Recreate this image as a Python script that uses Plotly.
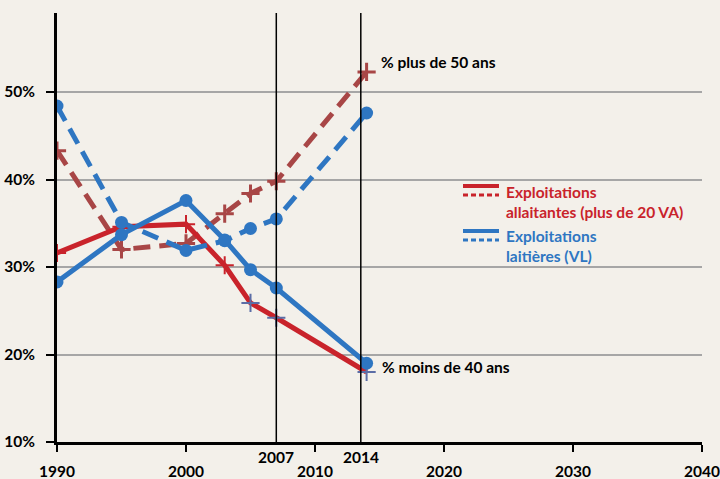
import plotly.graph_objects as go

# ---------------- data ----------------
years = [1990, 1995, 2000, 2003, 2005, 2007, 2014]

# Exploitations laitières (VL)
lait_moins40 = [28.3, 33.7, 37.6, 33.1, 29.7, 27.6, 19.0]
lait_plus50 = [48.4, 35.1, 31.9, 33.0, 34.4, 35.5, 47.6]

# Exploitations allaitantes (plus de 20 VA)
allait_moins40 = [31.6, 34.6, 34.9, 30.2, 25.9, 24.2, 18.0]
allait_plus50 = [43.3, 32.0, 32.7, 36.1, 38.4, 39.8, 52.3]

x_ticks = [1990, 2000, 2010, 2020, 2030, 2040]
x_ticklabels = ["1990", "2000", "2010", "2020", "2030", "2040"]
y_ticks = [10, 20, 30, 40, 50]
y_ticklabels = ["10%", "20%", "30%", "40%", "50%"]

ref_lines = [2007, 2013.55]
ref_labels = ["2007", "2014"]

# ---------------- style ----------------
BLUE = "#2E76C2"
RED = "#C9232B"
BROWN = "#A84646"
SLATE = "#5B6DA6"
BG = "#F3F0EA"
FONT = "Lato"
FS = 15.5

W, H = 720, 479
L, R, T, B = 57, 18, 13, 37
PW, PH = W - L - R, H - T - B


def px(xp):
    return (xp - L) / PW


def py(yp):
    return (H - B - yp) / PH


fig = go.Figure()

# allaitantes plus de 50 ans (dashed brown, + markers)
fig.add_trace(go.Scatter(
    x=years, y=allait_plus50, mode="lines+markers",
    line=dict(color=BROWN, width=5, dash="17px,9px"),
    marker=dict(symbol="cross-thin", size=13, line=dict(color=BROWN, width=3)),
    showlegend=False))

# allaitantes moins de 40 ans (solid red, + markers)
red_marker_colors = [RED, RED, RED, RED, SLATE, SLATE, SLATE]
fig.add_trace(go.Scatter(
    x=years, y=allait_moins40, mode="lines+markers",
    line=dict(color=RED, width=5),
    marker=dict(symbol="cross-thin", size=13, line=dict(color=red_marker_colors, width=2)),
    showlegend=False))

# laitières plus de 50 ans (dashed blue)
fig.add_trace(go.Scatter(
    x=years, y=lait_plus50, mode="lines+markers",
    line=dict(color=BLUE, width=5, dash="17px,9px"),
    marker=dict(symbol="circle", size=13, color=BLUE),
    showlegend=False))

# laitières moins de 40 ans (solid blue)
fig.add_trace(go.Scatter(
    x=years, y=lait_moins40, mode="lines+markers",
    line=dict(color=BLUE, width=5),
    marker=dict(symbol="circle", size=13, color=BLUE),
    showlegend=False))

shapes = []
for xv in ref_lines:
    shapes.append(dict(type="line", xref="x", yref="paper", x0=xv, x1=xv, y0=0, y1=1,
                       line=dict(color="black", width=1.5), layer="above"))

# custom legend symbols
shapes += [
    dict(type="line", xref="paper", yref="paper", x0=px(463), x1=px(499), y0=py(186), y1=py(186),
         line=dict(color=RED, width=4)),
    dict(type="line", xref="paper", yref="paper", x0=px(463), x1=px(499), y0=py(195), y1=py(195),
         line=dict(color=RED, width=3, dash="5px,3px")),
    dict(type="line", xref="paper", yref="paper", x0=px(463), x1=px(499), y0=py(231), y1=py(231),
         line=dict(color=BLUE, width=4)),
    dict(type="line", xref="paper", yref="paper", x0=px(463), x1=px(499), y0=py(240), y1=py(240),
         line=dict(color=BLUE, width=3, dash="5px,3px")),
]

annotations = []
for xv, lab in zip(ref_lines, ref_labels):
    annotations.append(dict(x=xv, y=0, xref="x", yref="paper", text="<b>%s</b>" % lab,
                            showarrow=False, yanchor="middle", yshift=-15,
                            font=dict(family=FONT, size=FS, color="black")))

annotations += [
    dict(x=2014, y=allait_plus50[-1], xref="x", yref="y", text="<b>% plus de 50 ans</b>",
         showarrow=False, xanchor="left", yanchor="middle", xshift=12, yshift=10,
         font=dict(family=FONT, size=FS, color="black")),
    dict(x=2014, y=lait_moins40[-1], xref="x", yref="y", text="<b>% moins de 40 ans</b>",
         showarrow=False, xanchor="left", yanchor="middle", xshift=13, yshift=-4,
         font=dict(family=FONT, size=FS, color="black")),
    dict(x=px(504), y=py(192), xref="paper", yref="paper", text="<b>Exploitations</b>",
         showarrow=False, xanchor="left", yanchor="middle",
         font=dict(family=FONT, size=FS, color=RED)),
    dict(x=px(504), y=py(212), xref="paper", yref="paper", text="<b>allaitantes (plus de 20 VA)</b>",
         showarrow=False, xanchor="left", yanchor="middle",
         font=dict(family=FONT, size=FS, color=RED)),
    dict(x=px(504), y=py(236), xref="paper", yref="paper", text="<b>Exploitations</b>",
         showarrow=False, xanchor="left", yanchor="middle",
         font=dict(family=FONT, size=FS, color=BLUE)),
    dict(x=px(504), y=py(256), xref="paper", yref="paper", text="<b>laitières (VL)</b>",
         showarrow=False, xanchor="left", yanchor="middle",
         font=dict(family=FONT, size=FS, color=BLUE)),
]

fig.update_layout(
    width=W, height=H,
    margin=dict(l=L, r=R, t=T, b=B, pad=0, autoexpand=False),
    paper_bgcolor=BG, plot_bgcolor=BG,
    font=dict(family=FONT, size=FS, color="black"),
    shapes=shapes, annotations=annotations,
    showlegend=False,
)

fig.update_xaxes(
    range=[1990, 2040], tickvals=x_ticks,
    ticktext=["<b>%s</b>" % t for t in x_ticklabels],
    showgrid=False, zeroline=False, automargin=False,
    showline=True, linecolor="black", linewidth=3,
    ticks="outside", ticklen=7, tickwidth=2, tickcolor="black",
    ticklabelstandoff=6,
    tickfont=dict(family=FONT, size=FS, color="black"),
)
fig.update_yaxes(
    range=[10, 10 + PH / 8.75], tickvals=y_ticks,
    ticktext=["<b>%s</b>" % t for t in y_ticklabels],
    showgrid=True, gridcolor="#A6A6A6", gridwidth=1.5, zeroline=False, automargin=False,
    showline=True, linecolor="black", linewidth=3,
    ticks="outside", ticklen=8, tickwidth=2, tickcolor="black",
    ticklabelstandoff=8,
    tickfont=dict(family=FONT, size=FS, color="black"),
)

fig.write_html(
    "out.html",
    config={"displayModeBar": False},
    post_script="document.body.style.margin='0px';document.body.style.padding='0px';"
                "document.body.style.background='%s';" % BG,
)
